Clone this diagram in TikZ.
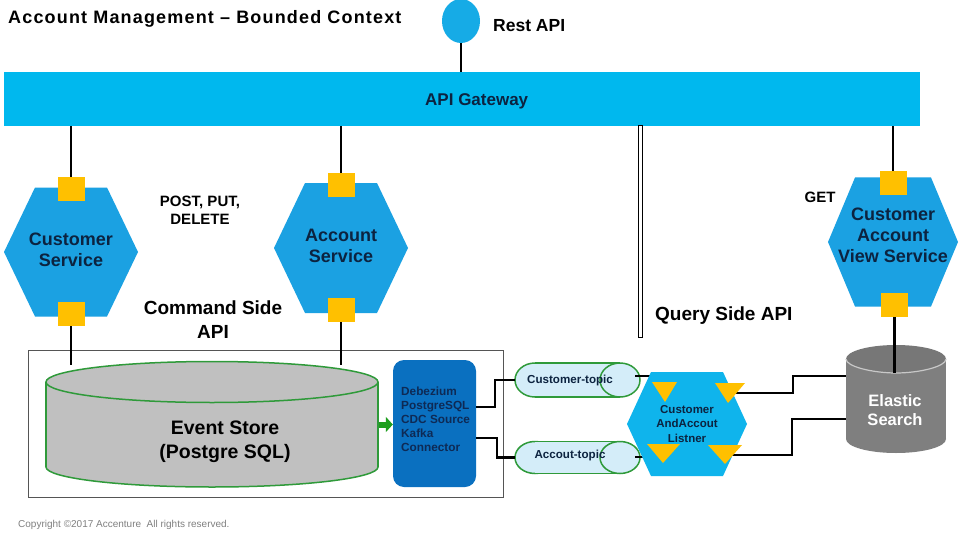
\documentclass[tikz,border=0pt]{standalone}
\usepackage{fontspec}
\setmainfont{Liberation Sans}
\usetikzlibrary{shapes.geometric,arrows.meta,calc}

\definecolor{gwcyan}{HTML}{00B8EE}
\definecolor{restc}{HTML}{16ABE6}
\definecolor{svcblue}{HTML}{1BA1E2}
\definecolor{lisblue}{HTML}{0FB4EC}
\definecolor{orangeY}{HTML}{FFC000}
\definecolor{navy}{HTML}{0C2340}
\definecolor{debblue}{HTML}{0A70C0}
\definecolor{debtext}{HTML}{0E2A55}
\definecolor{esgray}{HTML}{7F7F7F}
\definecolor{eslight}{HTML}{C8C8C8}
\definecolor{cylgray}{HTML}{C0C0C0}
\definecolor{grn}{HTML}{2F9A3A}
\definecolor{arrgreen}{HTML}{1E9E1E}
\definecolor{topicfill}{HTML}{D4EDF9}
\definecolor{boxgray}{HTML}{555555}
\definecolor{copygray}{HTML}{808080}

% cx cy halfwidth tophalfwidth halfheight colour
\newcommand{\hexfill}[6]{%
  \fill[#6] ({#1-#3},#2) -- ({#1-#4},{#2-#5}) -- ({#1+#4},{#2-#5}) --
    ({#1+#3},#2) -- ({#1+#4},{#2+#5}) -- ({#1-#4},{#2+#5}) -- cycle;}

% horizontal topic cylinder: cy ry
\newcommand{\topicshape}[2]{%
  \filldraw[fill=topicfill, draw=grn, line width=1.5pt] (535,#1) ellipse [x radius=20, y radius=#2];
  \fill[topicfill] (535,{#1-#2}) rectangle (620,{#1+#2});
  \draw[grn, line width=1.5pt] (535,{#1-#2}) -- (620,{#1-#2}) (535,{#1+#2}) -- (620,{#1+#2});
  \filldraw[fill=topicfill, draw=grn, line width=1.5pt] (620,#1) ellipse [x radius=20, y radius=#2];}

\begin{document}
\begin{tikzpicture}[x=1pt,y=-1pt,
  sq/.style={fill=orangeY, minimum width=27pt, minimum height=24pt, inner sep=0pt},
  conn/.style={line width=2.5pt, black},
  ghost/.style={inner sep=0pt, draw=none},
  svc/.style={font=\bfseries\fontsize{18}{21}\selectfont, text=navy, align=center, inner sep=0pt},
  lbl/.style={font=\bfseries\fontsize{19}{24}\selectfont, text=black, align=center, inner sep=0pt},
  small/.style={font=\bfseries\fontsize{11.8}{14}\selectfont, inner sep=0pt}]

\useasboundingbox (0,0) rectangle (960,540);
\fill[white] (0,0) rectangle (960,540);

% title
\node[anchor=base west, inner sep=0pt, font=\bfseries\fontsize{18}{20}\selectfont\addfontfeature{LetterSpace=6.5}] (title) at (8,24) {Account Management – Bounded Context};

% Gateway and Rest API
\node[ghost, fill=gwcyan, minimum width=916pt, minimum height=54pt] (gw) at (462,99) {};
\node[anchor=base west, inner sep=0pt, text=navy, font=\bfseries\fontsize{17}{20}\selectfont] (gwtext) at (425,106) {API Gateway};
\node[ghost, ellipse, fill=restc, minimum width=38pt, minimum height=44pt] (rest) at (461,21) {};
\node[anchor=base west, inner sep=0pt, font=\bfseries\fontsize{17.5}{20}\selectfont] (resttext) at (493,32) {Rest API};
\draw[conn] (rest.south) -- (rest.south |- gw.north);

% command-side box
\draw[boxgray, line width=1pt] (28,350) rectangle (503,497);

% service squares (nodes)
\node[sq] (cst) at (71,189) {};
\node[sq] (csb) at (71,314) {};
\node[sq] (ast) at (341,185) {};
\node[sq] (asb) at (341,310) {};
\node[sq] (vst) at (893,183) {};
\node[sq] (vsb) at (894.5,305) {};

% connectors from gateway
\draw[conn] (gw.south -| cst.north) -- (cst.north);
\draw[conn] (gw.south -| ast.north) -- (ast.north);
\draw[conn] (gw.south -| vst.north) -- (vst.north);
\draw[conn] (csb.south) -- ++(0,39);
\draw[conn] (asb.south) -- ++(0,43);

% hexagons
\hexfill{71}{252}{67}{36}{64.5}{svcblue}
\hexfill{341}{248}{67}{36}{65}{svcblue}
\hexfill{893}{242}{65}{38}{64.5}{svcblue}
\node[sq] at (cst) {};
\node[sq] at (csb) {};
\node[sq] at (ast) {};
\node[sq] at (asb) {};
\node[sq] at (vst) {};
\node[sq] at (vsb) {};
\node[svc] (cs) at (71,250) {Customer\\Service};
\node[svc] (as) at (341,245.5) {Account\\Service};
\node[svc] (vs) at (893,235.5) {Customer\\Account\\View Service};

% labels
\node[inner sep=0pt, align=center, font=\bfseries\fontsize{15}{18}\selectfont] (post) at (200,210.6) {POST, PUT,\\DELETE};
\node[lbl] (cmd) at (213,319.5) {Command Side\\API};
\node[anchor=base, inner sep=0pt, font=\bfseries\fontsize{15}{18}\selectfont] (get) at (820,202) {GET};
\node[anchor=base west, inner sep=0pt, font=\bfseries\fontsize{19}{24}\selectfont] (query) at (655,320) {Query Side API};

% separator
\draw[line width=4.6pt, black] (640.5,125) -- (640.5,338);
\draw[line width=2.2pt, white] (640.5,126.2) -- (640.5,336.8);

% Event store cylinder
\filldraw[fill=cylgray, draw=grn, line width=1.5pt] (212,467) ellipse [x radius=166, y radius=20];
\fill[cylgray] (46,382) rectangle (378,467);
\draw[grn, line width=1.5pt] (46,382) -- (46,467) (378,382) -- (378,467);
\filldraw[fill=cylgray, draw=grn, line width=1.5pt] (212,382) ellipse [x radius=166, y radius=20.5];
\node[ghost, minimum width=332pt, minimum height=125pt] (es) at (212,424.5) {};
\node[inner sep=0pt, align=center, font=\bfseries\fontsize{19.5}{23.5}\selectfont] (estext) at (225,442) {Event Store\\(Postgre SQL)};

% Debezium box
\node[ghost, fill=debblue, rounded corners=11pt, minimum width=83pt, minimum height=127pt] (deb) at (434.5,423.5) {};
\node[small, anchor=west, align=left, text=debtext] (debtext) at (401,419) {Debezium\\PostgreSQL\\CDC Source\\Kafka\\Connector};
\draw[arrgreen, line width=6pt, -{Triangle[length=7pt,width=15pt]}] ([xshift=0.8pt]es.east) -- (es.east -| deb.west);

% topics
\topicshape{380}{17}
\topicshape{457.5}{16}
\node[ghost, minimum width=125pt, minimum height=34pt] (cstopic) at (577.5,380) {};
\node[ghost, minimum width=125pt, minimum height=32pt] (actopic) at (577.5,457.5) {};
\node[small, anchor=base, text=navy, font=\bfseries\fontsize{11.6}{14}\selectfont] at (570,383) {Customer-topic};
\node[small, anchor=base, text=navy, font=\bfseries\fontsize{11.6}{14}\selectfont] at (570,458) {Accout-topic};

\draw[conn] ([yshift=16.5pt]deb.east) -- ++(19,0) |- (cstopic.west);
\draw[conn] ([yshift=-14.5pt]deb.east) -- ++(21,0) |- (actopic.west);
\draw[conn] ([shift={(-5pt,4pt)}]cstopic.east) -- ++(16,0);
\draw[conn] ([shift={(-5pt,0.5pt)}]actopic.east) -- ++(10,0);

% Elastic search cylinder
\fill[esgray] (896,439) ellipse [x radius=50, y radius=14];
\fill[esgray] (846,359) rectangle (946,439);
\fill[esgray!94!black] (896,359) ellipse [x radius=50, y radius=14];
\draw[eslight, line width=1.2pt] (846,359) .. controls (846,366.7) and (873.4,373) .. (896,373) .. controls (918.6,373) and (946,366.7) .. (946,359);
\node[ghost, minimum width=100pt, minimum height=80pt] (esr) at (896,406) {};
\node[inner sep=0pt, align=center, text=white, font=\bfseries\fontsize{16.5}{19}\selectfont] (estxt) at (895,410) {Elastic\\Search};
\draw[conn] (vsb.south) -- ++(0,56);

% listener
\coordinate (t2) at (735,393);
\coordinate (t4) at (731,455);
\draw[conn] (t2) -- ++(58,0) |- ([yshift=30pt]esr.west);
\draw[conn] (t4) -- ++(61,0) |- ([yshift=-13pt]esr.west);
\hexfill{687}{424}{60}{36}{52}{lisblue}
\fill[orangeY] (652,382) -- (677,382) -- (665,402) -- cycle;
\fill[orangeY] (715,383) -- (745,383) -- (728,403) -- cycle;
\fill[orangeY] (647,444) -- (680,444) -- (663,463) -- cycle;
\fill[orangeY] (708,445) -- (742,445) -- (725,464) -- cycle;
\node[small, align=center, text=navy, font=\bfseries\fontsize{11.5}{14.5}\selectfont] (lis) at (687,424) {Customer\\AndAccout\\Listner};

% copyright
\node[anchor=base west, inner sep=0pt, text=copygray, font=\fontsize{10}{11}\selectfont] (copy) at (18,527) {Copyright ©2017 Accenture\ \ All rights reserved.};
\end{tikzpicture}
\end{document}
